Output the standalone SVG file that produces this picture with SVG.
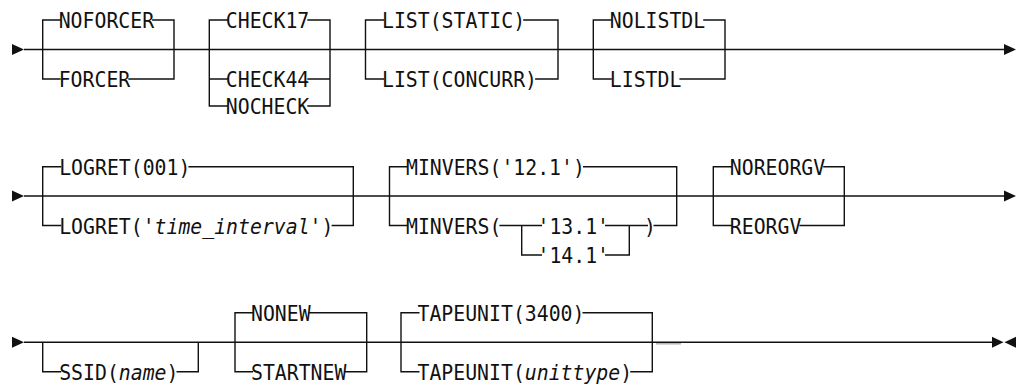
<svg xmlns="http://www.w3.org/2000/svg" width="1019" height="384" viewBox="0 0 1019 384">
<style>
  .bg { fill: #ffffff; }
  .t { font-family: "DejaVu Sans Mono", "Liberation Mono", monospace; font-size: 21.6px; fill: #111; }
  .i { font-style: italic; }
  .ln { fill: none; stroke: #111; stroke-width: 1.4; }
  .gr { fill: none; stroke: #b4b4b4; stroke-width: 1.5; }
  .ah { fill: #111; }
</style>
<rect class="bg" x="0" y="0" width="1019" height="384"/>

<g id="connectors">
  <!-- row 1 -->
  <path class="ln" d="M24,49.5 H1004"/>
  <polygon class="ah" points="12,44 24,49.5 12,55"/>
  <polygon class="ah" points="1004,44 1016,49.5 1004,55"/>
  <path class="ln" d="M60.7,20 H42.7 V79 H60.7 M152.1,20 H174 V79 H128.3"/>
  <path class="ln" d="M227.8,20 H209.3 V106 H227.8 M209.3,79 H227.8 M307.3,20 H330 V106 H307.3 M307.3,79 H330"/>
  <path class="ln" d="M384,20 H365.5 V79 H384 M523.2,20 H558 V79 H535.1"/>
  <path class="ln" d="M611.8,20 H593.3 V79 H611.8 M703.2,20 H725 V79 H679.4"/>
  <!-- row 2 -->
  <path class="ln" d="M24,196 H1004"/>
  <polygon class="ah" points="12,190.5 24,196 12,201.5"/>
  <polygon class="ah" points="1004,190.5 1016,196 1004,201.5"/>
  <path class="ln" d="M61.2,166.7 H42.7 V225.5 H61.2 M188.4,166.7 H353.3 V225.5 H331.6"/>
  <path class="ln" d="M408,166.7 H389.5 V225.5 H408 M583,166.7 H676.7 V225.5 H653.5"/>
  <path class="ln" d="M499.4,225.5 H542 M521.7,225.5 V255 H542 M605,225.5 H648 M605,255 H629.3 V225.5"/>
  <path class="ln" d="M731.8,166.7 H713.3 V225.5 H731.8 M823.2,166.7 H844.3 V225.5 H799.4"/>
  <!-- row 3 -->
  <path class="ln" d="M24,342.3 H992"/>
  <polygon class="ah" points="12,336.8 24,342.3 12,347.8"/>
  <polygon class="ah" points="992,336.8 1003.5,342.3 992,347.8"/>
  <polygon class="ah" points="1016,336.8 1004.5,342.3 1016,347.8"/>
  <path class="ln" d="M42.7,342.3 V371.7 H61.2 M176.5,371.7 H198.3 V342.3"/>
  <path class="ln" d="M253,312.7 H235 V371.7 H253 M308.7,312.7 H366.7 V371.7 H344.4"/>
  <path class="ln" d="M419.5,312.7 H401 V371.7 H419.5 M582.5,312.7 H652.3 V371.7 H630.2"/>
  <path class="gr" d="M656,343.8 H681"/>
</g>

<g id="n-noforcer"><text class="t" transform="translate(58.7 28.3) scale(0.917 1)">NOFORCER</text></g>
<g id="n-forcer"><text class="t" transform="translate(58.7 87.3) scale(0.917 1)">FORCER</text></g>
<g id="n-check17"><text class="t" transform="translate(225.8 28.3) scale(0.917 1)">CHECK17</text></g>
<g id="n-check44"><text class="t" transform="translate(225.8 87.3) scale(0.917 1)">CHECK44</text></g>
<g id="n-nocheck"><text class="t" transform="translate(225.8 114.3) scale(0.917 1)">NOCHECK</text></g>
<g id="n-list-static"><text class="t" transform="translate(382 28.3) scale(0.917 1)">LIST(STATIC)</text></g>
<g id="n-list-concurr"><text class="t" transform="translate(382 87.3) scale(0.917 1)">LIST(CONCURR)</text></g>
<g id="n-nolistdl"><text class="t" transform="translate(609.8 28.3) scale(0.917 1)">NOLISTDL</text></g>
<g id="n-listdl"><text class="t" transform="translate(609.8 87.3) scale(0.917 1)">LISTDL</text></g>

<g id="n-logret-001"><text class="t" transform="translate(59.2 175) scale(0.917 1)">LOGRET(001)</text></g>
<g id="n-logret-ti"><text class="t" transform="translate(59.2 233.8) scale(0.917 1)">LOGRET('<tspan class="i">time_interval</tspan>')</text></g>
<g id="n-minvers-121"><text class="t" transform="translate(406 175) scale(0.917 1)">MINVERS('12.1')</text></g>
<g id="n-minvers-open"><text class="t" transform="translate(406 233.8) scale(0.917 1)">MINVERS(</text></g>
<g id="n-v131"><text class="t" transform="translate(537.5 233.8) scale(0.917 1)">'13.1'</text></g>
<g id="n-v141"><text class="t" transform="translate(537.5 263.3) scale(0.917 1)">'14.1'</text></g>
<g id="n-minvers-close"><text class="t" transform="translate(644 233.8) scale(0.917 1)">)</text></g>
<g id="n-noreorgv"><text class="t" transform="translate(729.8 175) scale(0.917 1)">NOREORGV</text></g>
<g id="n-reorgv"><text class="t" transform="translate(729.8 233.8) scale(0.917 1)">REORGV</text></g>

<g id="n-ssid"><text class="t" transform="translate(59.2 380) scale(0.917 1)">SSID(<tspan class="i">name</tspan>)</text></g>
<g id="n-nonew"><text class="t" transform="translate(251 321) scale(0.917 1)">NONEW</text></g>
<g id="n-startnew"><text class="t" transform="translate(251 380) scale(0.917 1)">STARTNEW</text></g>
<g id="n-tapeunit-3400"><text class="t" transform="translate(417.5 321) scale(0.917 1)">TAPEUNIT(3400)</text></g>
<g id="n-tapeunit-ut"><text class="t" transform="translate(417.5 380) scale(0.917 1)">TAPEUNIT(<tspan class="i">unittype</tspan>)</text></g>
</svg>
